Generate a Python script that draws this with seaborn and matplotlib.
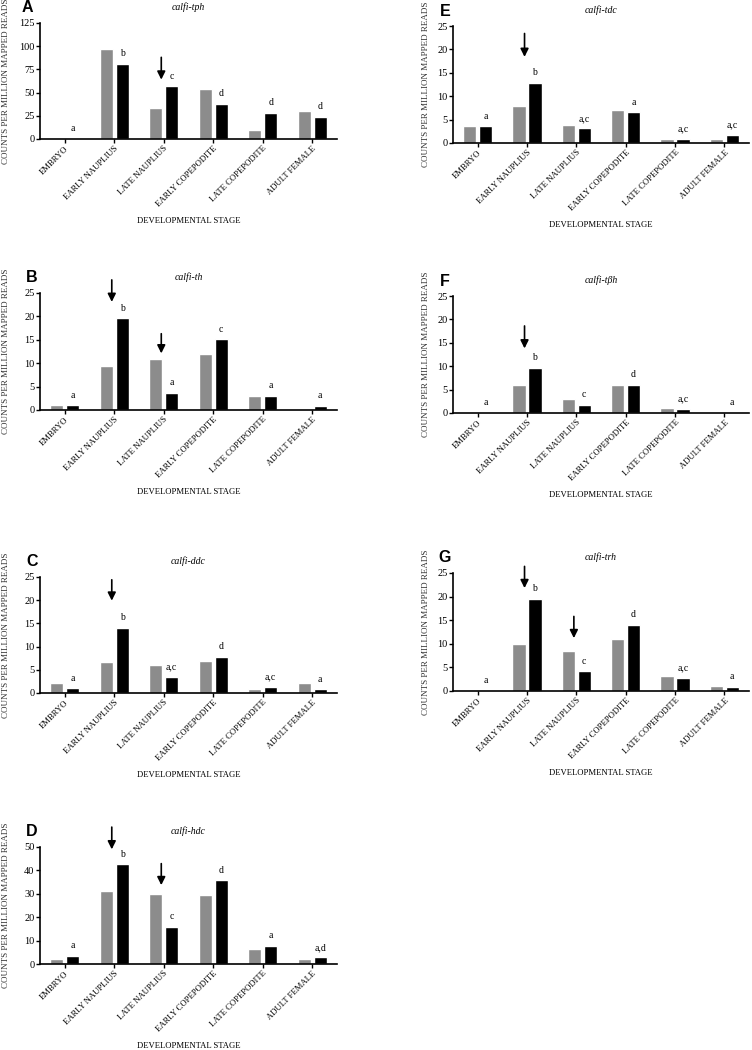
import matplotlib
matplotlib.use('Agg')
import matplotlib.pyplot as plt
import seaborn as sns
import pandas as pd

STAGES = ["EMBRYO", "EARLY NAUPLIUS", "LATE NAUPLIUS",
          "EARLY COPEPODITE", "LATE COPEPODITE", "ADULT FEMALE"]
SERIES = ["grey", "black"]

# values (counts per million mapped reads)
tph_grey = [1, 97, 33, 54, 10, 30]
tph_black = [0, 81, 57, 38, 28, 24]
tph_letters = ["a", "b", "c", "d", "d", "d"]

th_grey = [1, 9.4, 10.9, 12, 3.05, 0]
th_black = [1, 19.6, 3.7, 15.1, 3.05, 0.85]
th_letters = ["a", "b", "a", "c", "a", "a"]

ddc_grey = [2.1, 6.6, 6.1, 7.0, 0.9, 2.1]
ddc_black = [1.0, 14.1, 3.4, 7.8, 1.4, 0.8]
ddc_letters = ["a", "b", "a,c", "d", "a,c", "a"]

hdc_grey = [2.0, 31.4, 29.8, 29.4, 6.2, 2.0]
hdc_black = [3.6, 42.6, 16.0, 35.8, 7.8, 2.8]
hdc_letters = ["a", "b", "c", "d", "a", "a,d"]

tdc_grey = [3.6, 8.0, 3.9, 7.0, 0.9, 0.9]
tdc_black = [3.6, 12.9, 3.1, 6.6, 0.9, 1.7]
tdc_letters = ["a", "b", "a,c", "a", "a,c", "a,c"]

tbh_grey = [0, 6.0, 3.05, 6.0, 1.0, 0]
tbh_black = [0, 9.7, 1.8, 6.0, 0.8, 0]
tbh_letters = ["a", "b", "c", "d", "a,c", "a"]

trh_grey = [0, 10.0, 8.5, 11.0, 3.1, 1.05]
trh_black = [0, 19.5, 4.2, 14.0, 2.7, 0.85]
trh_letters = ["a", "b", "c", "d", "a,c", "a"]

# arrows: (stage index, y start, y end)
tph_arrows = [(2, 88, 64)]
th_arrows = [(1, 27.8, 23.1), (2, 16.3, 12.1)]
ddc_arrows = [(1, 24.4, 19.9)]
hdc_arrows = [(1, 58.5, 49), (2, 42.9, 33.7)]
tdc_arrows = [(1, 23.4, 18.4)]
tbh_arrows = [(1, 18.6, 13.8)]
trh_arrows = [(1, 26.4, 21.8), (2, 15.8, 11.2)]

W, H = 752, 1050
panels = [
    ("A", "calfi-tph", tph_grey, tph_black, tph_letters, tph_arrows, 125, 25, (40, 23, 337, 139)),
    ("B", "calfi-th", th_grey, th_black, th_letters, th_arrows, 25, 5, (40, 293, 337, 410)),
    ("C", "calfi-ddc", ddc_grey, ddc_black, ddc_letters, ddc_arrows, 25, 5, (40, 577, 337, 693)),
    ("D", "calfi-hdc", hdc_grey, hdc_black, hdc_letters, hdc_arrows, 50, 10, (40, 847, 337, 964)),
    ("E", "calfi-tdc", tdc_grey, tdc_black, tdc_letters, tdc_arrows, 25, 5, (453, 26, 749, 143)),
    ("F", "calfi-tβh", tbh_grey, tbh_black, tbh_letters, tbh_arrows, 25, 5, (453, 296, 749, 413)),
    ("G", "calfi-trh", trh_grey, trh_black, trh_letters, trh_arrows, 25, 5, (453, 573, 749, 691)),
]

sns.set_style("ticks")
plt.rcParams['font.family'] = ['Liberation Serif', 'DejaVu Serif']
plt.rcParams['text.color'] = 'black'
plt.rcParams['axes.labelcolor'] = 'black'
plt.rcParams['xtick.color'] = 'black'
plt.rcParams['ytick.color'] = 'black'
plt.rcParams['axes.edgecolor'] = 'black'

fig = plt.figure(figsize=(W / 100, H / 100), dpi=100)

for letter, gene, grey, black, sig, arrows, ymax, ystep, box in panels:
    l, t, r, b = box
    ax = fig.add_axes([l / W, 1 - b / H, (r - l) / W, (b - t) / H])
    df = pd.DataFrame({
        "stage": STAGES * 2,
        "series": [SERIES[0]] * 6 + [SERIES[1]] * 6,
        "value": grey + black,
    })
    sns.barplot(data=df, x="stage", y="value", hue="series", order=STAGES,
                hue_order=SERIES, palette=["#8c8c8c", "#000000"], saturation=1,
                width=0.64, gap=0.16, legend=False, ax=ax)

    ax.set_ylim(0, ymax)
    ax.set_xlim(-0.5, 5.5)
    ax.set_yticks(range(0, ymax + 1, ystep))
    ax.tick_params(axis='y', labelsize=7.5, length=3, width=1, pad=1)
    ax.tick_params(axis='x', labelsize=6.2, length=3, width=1, pad=1)
    ax.set_xticks(range(6))
    ax.set_xticklabels(STAGES, rotation=45, ha='right', rotation_mode='anchor')
    sns.despine(ax=ax)
    for s in ("left", "bottom"):
        ax.spines[s].set_linewidth(1.2)

    hpx = b - t
    wpx = r - l
    ax.set_xlabel("DEVELOPMENTAL STAGE", fontsize=6.2)
    ax.xaxis.set_label_coords(0.5, -78 / hpx)
    ax.set_ylabel("COUNTS PER MILLION MAPPED READS", fontsize=6.5, color='#333333')
    ylab_x = -30 / wpx if l < 200 else -23 / wpx
    ax.yaxis.set_label_coords(ylab_x, 0.5)

    ax.text(0.5, 1 + 16 / hpx, gene, transform=ax.transAxes, ha='center',
            va='center', fontsize=7, style='italic')
    lx = -13 / wpx if letter == "A" else -8 / wpx
    ax.text(lx, 1 + 15 / hpx, letter, transform=ax.transAxes, ha='center',
            va='center', fontsize=11.5, fontweight='bold',
            family=['Liberation Sans', 'DejaVu Sans'])

    # significance letters above the black bars
    for bar, lab in zip(ax.containers[1], sig):
        ax.annotate(lab, xy=(bar.get_x() + bar.get_width() / 2, bar.get_height()),
                    xytext=(0, 4), textcoords='offset points', ha='center',
                    va='bottom', fontsize=7, annotation_clip=False)

    for idx, y0, y1 in arrows:
        ax.annotate('', xy=(idx - 0.05, y1), xytext=(idx - 0.05, y0),
                    arrowprops=dict(arrowstyle='-|>', color='black', lw=1.2,
                                    mutation_scale=12, shrinkA=0, shrinkB=0),
                    annotation_clip=False)

fig.savefig("out.png", dpi=100)
plt.close(fig)
